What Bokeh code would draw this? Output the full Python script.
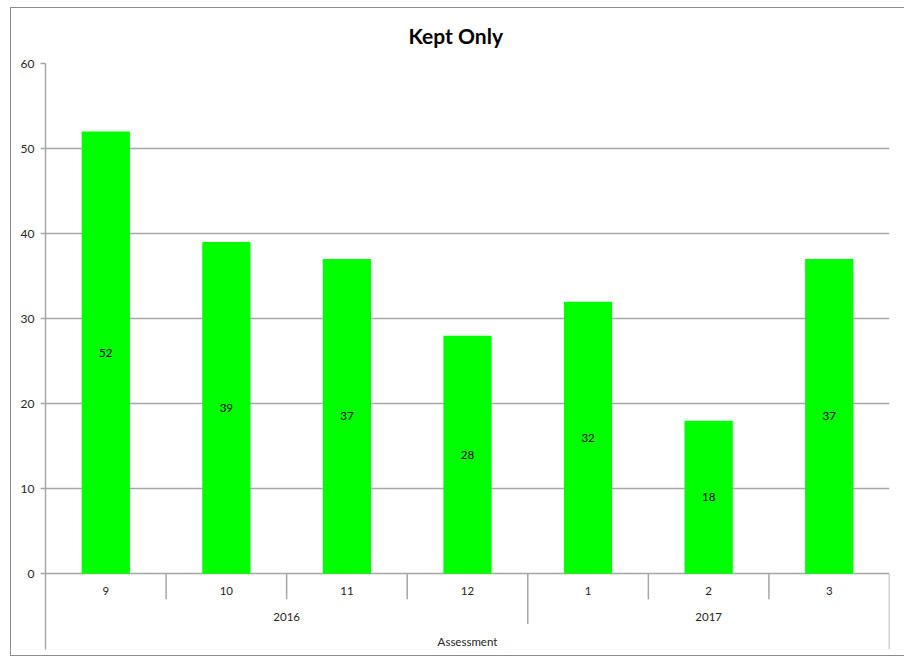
from bokeh.plotting import figure
from bokeh.models import Range1d, FixedTicker
from bokeh.core.properties import value
from bokeh.embed import file_html
from bokeh.resources import INLINE

# ---- data ----
months = ["9", "10", "11", "12", "1", "2", "3"]
years = ["2016", "2016", "2016", "2016", "2017", "2017", "2017"]
kept = [52, 39, 37, 28, 32, 18, 37]
y_ticks = [0, 10, 20, 30, 40, 50, 60]
title_text = "Kept Only"
axis_title = "Assessment"

FONT = "Lato"
GRID = "#a6a6a6"
TXT = "#262626"

n = len(months)
xc = [i + 0.5 for i in range(n)]
ymin = -8.9

p = figure(width=894, height=649, output_backend="svg", toolbar_location=None,
           x_range=Range1d(0, n), y_range=Range1d(ymin, 60),
           min_border_left=34, min_border_right=16, min_border_top=55, min_border_bottom=8,
           x_axis_location=None)
p.styles = {"border-left": "1px solid #8c8c8c", "border-top": "1px solid #8c8c8c",
            "border-bottom": "1px solid #8c8c8c", "margin-left": "10px", "margin-top": "7px"}
p.outline_line_color = None
p.background_fill_color = "white"
p.border_fill_color = "white"

p.title.text = title_text
p.title.text_font = FONT
p.title.text_font_size = "21px"
p.title.text_font_style = "bold"
p.title.text_color = "black"
p.title.align = "left"
p.title.vertical_align = "top"
p.title.offset = 363
p.title.standoff = 27

# y axis
ya = p.yaxis[0]
ya.ticker = FixedTicker(ticks=y_ticks)
ya.axis_line_color = GRID
ya.axis_line_width = 1.5
ya.major_tick_line_color = GRID
ya.major_tick_line_width = 1.5
ya.major_tick_out = 5
ya.major_tick_in = 0
ya.minor_tick_line_color = None
ya.major_label_text_font = FONT
ya.major_label_text_font_size = "12px"
ya.major_label_text_color = TXT
ya.major_label_standoff = 6

p.xgrid.visible = False
p.ygrid.ticker = FixedTicker(ticks=y_ticks)
p.ygrid.grid_line_color = GRID
p.ygrid.grid_line_width = 1.5

# bars
p.vbar(x=xc, top=kept, width=0.4, fill_color="#00ff00", line_color=None)
p.text(x=xc, y=[v / 2 for v in kept], text=[str(v) for v in kept],
       text_align="center", text_baseline="middle", text_font=value(FONT),
       text_font_size="11.5px", text_color="black")

# category axis (Excel-style multi-level)
sep_x, sep_y0, sep_y1 = [], [], []
for i in range(1, n + 1):
    sep_x.append(i)
    sep_y0.append(0)
    if i == n:
        sep_y1.append(ymin)
    elif years[i] != years[i - 1]:
        sep_y1.append(-5.9)
    else:
        sep_y1.append(-3.0)
p.segment(x0=sep_x, y0=sep_y0, x1=sep_x, y1=sep_y1, line_color=GRID, line_width=1.5)

p.text(x=xc, y=[-2.0] * n, text=months, text_align="center", text_baseline="middle",
       text_font=value(FONT), text_font_size="11.5px", text_color=TXT)

groups = []
for i, yv in enumerate(years):
    if not groups or groups[-1][0] != yv:
        groups.append([yv, i, i + 1])
    else:
        groups[-1][2] = i + 1
p.text(x=[(g[1] + g[2]) / 2 for g in groups], y=[-5.1] * len(groups),
       text=[g[0] for g in groups], text_align="center", text_baseline="middle",
       text_font=value(FONT), text_font_size="11.5px", text_color=TXT)
p.text(x=[n / 2], y=[-8.0], text=[axis_title], text_align="center", text_baseline="middle",
       text_font=value(FONT), text_font_size="11.5px", text_color=TXT)

open("out.html", "w").write(file_html(p, INLINE))
